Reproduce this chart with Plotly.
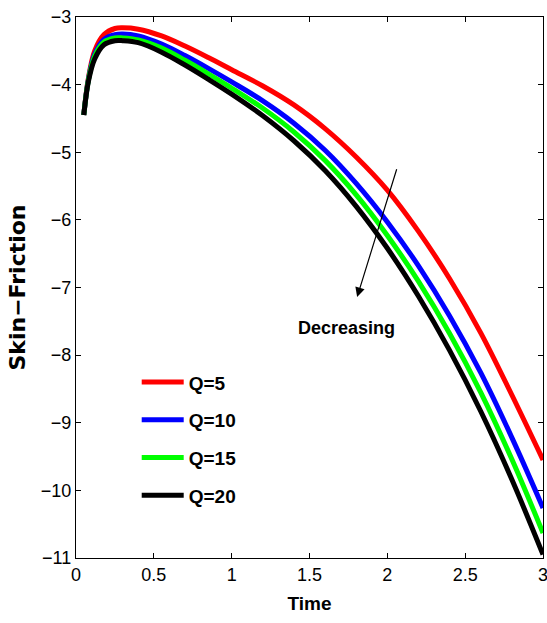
import plotly.graph_objects as go

# Time samples shared by all curves
time = [0.05, 0.08, 0.12, 0.18, 0.25, 0.3, 0.4, 0.55, 0.7, 0.85, 1.0, 1.2,
        1.4, 1.6, 1.8, 2.0, 2.2, 2.4, 2.6, 2.8, 3.0]

# Skin-friction for each heat source parameter Q
sf_q5 = [-4.45, -3.90, -3.50, -3.26, -3.17, -3.16, -3.18, -3.28, -3.43, -3.60,
         -3.78, -4.02, -4.30, -4.65, -5.07, -5.56, -6.17, -6.87, -7.67, -8.59, -9.55]
sf_q10 = [-4.45, -3.92, -3.55, -3.33, -3.26, -3.25, -3.28, -3.40, -3.57, -3.76,
          -3.96, -4.24, -4.57, -4.97, -5.46, -6.03, -6.68, -7.42, -8.26, -9.22, -10.26]
sf_q15 = [-4.45, -3.93, -3.58, -3.37, -3.31, -3.31, -3.34, -3.46, -3.64, -3.84,
          -4.05, -4.35, -4.70, -5.12, -5.63, -6.23, -6.91, -7.68, -8.55, -9.54, -10.63]
sf_q20 = [-4.45, -3.95, -3.62, -3.41, -3.35, -3.35, -3.38, -3.52, -3.71, -3.92,
          -4.14, -4.46, -4.83, -5.27, -5.80, -6.42, -7.13, -7.93, -8.83, -9.84, -10.95]

series_names = ["Q=5", "Q=10", "Q=15", "Q=20"]
series_values = [sf_q5, sf_q10, sf_q15, sf_q20]
series_colors = ["#ff0000", "#0000ff", "#00ff00", "#000000"]

x_ticks = [0, 0.5, 1, 1.5, 2, 2.5, 3]
x_tick_text = ["0", "0.5", "1", "1.5", "2", "2.5", "3"]
y_ticks = [-11, -10, -9, -8, -7, -6, -5, -4, -3]
y_tick_text = ["−11", "−10", "−9", "−8", "−7", "−6", "−5", "−4", "−3"]

SANS = "Liberation Sans, Arial"

fig = go.Figure()
for name, vals, col in zip(series_names, series_values, series_colors):
    fig.add_trace(go.Scatter(
        x=time, y=vals, mode="lines", name=f"<b>{name}</b>", legendgroup=name,
        line=dict(color=col, width=5, shape="spline", smoothing=1.0),
    ))

# Arrow showing the direction of increasing Q
fig.add_annotation(
    x=1.806, y=-7.14, ax=2.063, ay=-5.23,
    xref="x", yref="y", axref="x", ayref="y",
    text="", showarrow=True, arrowhead=2, arrowsize=1.6, arrowwidth=1.2,
    arrowcolor="#000000",
)
fig.add_annotation(
    x=1.74, y=-7.6, xref="x", yref="y", text="<b>Decreasing</b>",
    showarrow=False, font=dict(family=SANS, size=18, color="#000"),
)

axis_common = dict(
    showgrid=False, zeroline=False, showline=True, linecolor="#000",
    linewidth=1.3, mirror="ticks", ticks="inside", ticklen=5,
    tickcolor="#000", tickwidth=1, ticklabeloverflow="allow", automargin=False,
    tickfont=dict(family=SANS, size=18, color="#000"),
)

fig.update_layout(
    width=547, height=623,
    margin=dict(l=76, r=4, t=17, b=65),
    paper_bgcolor="#ffffff", plot_bgcolor="#ffffff",
    xaxis=dict(range=[0, 3], tickvals=x_ticks, ticktext=x_tick_text,
               title=dict(text="<b>Time</b>", standoff=12,
                          font=dict(family=SANS, size=19, color="#000")),
               **axis_common),
    yaxis=dict(range=[-11, -3], tickvals=y_ticks, ticktext=y_tick_text,
               title=dict(text="<b>Skin−Friction</b>", standoff=9,
                          font=dict(family="DejaVu Sans", size=22, color="#000")),
               **axis_common),
    legend=dict(x=0.13, y=0.36, xanchor="left", yanchor="top",
                bgcolor="rgba(0,0,0,0)", tracegroupgap=10,
                font=dict(family=SANS, size=19, color="#000"),
                itemwidth=42),
    showlegend=True,
)

fig.write_html("out.html")
